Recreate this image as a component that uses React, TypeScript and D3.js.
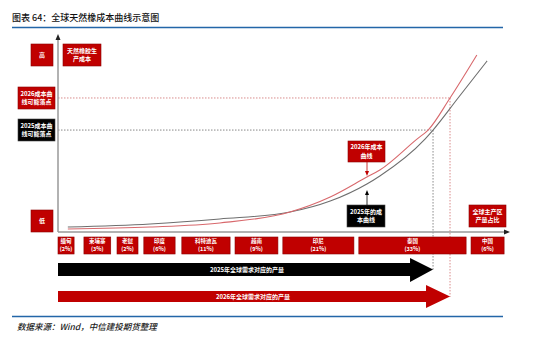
import React from "react";
import * as d3 from "d3";

const title = "图表 64：全球天然橡成本曲线示意图";
const footer = "数据来源：Wind，中信建投期货整理";

// cumulative production position (0-100) vs cost level (0-100)
const curve2026: [number, number][] = [
  [2.2, 1.6], [20.6, 2.6], [36.2, 4.7], [51.9, 10.4], [60.9, 18.2], [69.1, 28.6],
  [72, 32.3], [80.3, 48.4], [82.8, 53.1], [87.7, 69.8], [93.7, 92.2],
];
const curve2025: [number, number][] = [
  [2.2, 2.6], [20.6, 4.2], [36.2, 6.8], [51.9, 10.4], [60.9, 16.1], [69.1, 25],
  [72, 29.2], [82.1, 48.4], [83.9, 53.1], [89.5, 69.8], [96, 89.1],
];

const countries = ["缅甸", "柬埔寨", "老挝", "印度", "科特迪瓦", "越南", "印尼", "泰国", "中国"];
const shares = ["2%", "3%", "2%", "6%", "11%", "9%", "21%", "33%", "6%"];
const segStart = [0, 5.8, 13.2, 19.2, 27.7, 39.6, 50.3, 67.3, 92.4];
const segEnd = [3.6, 11.8, 17.9, 26.2, 38.5, 49.2, 66.2, 91.3, 99.8];

const point2025: [number, number] = [83.9, 53.1];
const point2026: [number, number] = [87.7, 69.8];

const RED = "#C00000";
const FONT = "'Noto Sans CJK SC', 'Noto Sans', sans-serif";

function Box({ x, y, w, h, lines, fill, fs = 6 }: any) {
  return (
    <g>
      <rect x={x} y={y} width={w} height={h} fill={fill} stroke={fill === "#000" ? "#444" : "#8a0000"} strokeWidth={0.6} />
      {lines.map((t: string, i: number) => (
        <text
          key={i}
          x={x + w / 2}
          y={y + h / 2 + (i - (lines.length - 1) / 2) * (fs + 2.5)}
          dy="0.35em"
          textAnchor="middle"
          fill="#fff"
          fontSize={fs}
          fontWeight="bold"
          fontFamily={FONT}
        >
          {t}
        </text>
      ))}
    </g>
  );
}

export default function App() {
  const x = d3.scaleLinear().domain([0, 100]).range([58, 505]);
  const y = d3.scaleLinear().domain([0, 100]).range([232, 40]);
  const line = d3
    .line<[number, number]>()
    .x((d) => x(d[0]))
    .y((d) => y(d[1]))
    .curve(d3.curveMonotoneX);

  const arrow = (x0: number, x1: number, bt: number, bb: number, ht: number, hb: number, hl: number) => {
    const mid = (bt + bb) / 2;
    const p = d3.path();
    p.moveTo(x0, bt);
    p.lineTo(x1 - hl, bt);
    p.lineTo(x1 - hl, ht);
    p.lineTo(x1, mid);
    p.lineTo(x1 - hl, hb);
    p.lineTo(x1 - hl, bb);
    p.lineTo(x0, bb);
    p.closePath();
    return p.toString();
  };

  const bx25 = x(point2025[0]);
  const by25 = y(point2025[1]);
  const bx26 = x(point2026[0]);
  const by26 = y(point2026[1]);

  return (
    <svg width={550} height={337} style={{ position: "absolute", left: 0, top: 0, background: "#fff" }}>
      <text x={12} y={21} fontSize={9} fontWeight={500} fontFamily={FONT} fill="#111">{title}</text>
      <line x1={12} x2={503} y1={27.5} y2={27.5} stroke="#2366a8" strokeWidth={1.5} />

      {/* dotted guides */}
      <line x1={x(0)} x2={bx26} y1={by26} y2={by26} stroke="#d98c8c" strokeWidth={1} strokeDasharray="1.5,1.5" />
      <line x1={bx26} x2={bx26} y1={by26} y2={297} stroke="#d98c8c" strokeWidth={1} strokeDasharray="1.5,1.5" />
      <line x1={x(0)} x2={bx25} y1={by25} y2={by25} stroke="#888" strokeWidth={1} strokeDasharray="1.5,1.5" />
      <line x1={bx25} x2={bx25} y1={by25} y2={270} stroke="#888" strokeWidth={1} strokeDasharray="1.5,1.5" />

      {/* axes */}
      <line x1={x(0)} x2={x(0)} y1={232} y2={38} stroke="#999" strokeWidth={1.5} />
      <path d={`M${x(0) - 2.5},40 L${x(0)},34 L${x(0) + 2.5},40 Z`} fill="#222" />
      <line x1={x(0)} x2={506} y1={232} y2={232} stroke="#999" strokeWidth={1.5} />
      <path d={`M504,229.5 L510,232 L504,234.5 Z`} fill="#222" />

      {/* curves */}
      <path d={line(curve2025) || ""} fill="none" stroke="#6e6e6e" strokeWidth={1.1} />
      <path d={line(curve2026) || ""} fill="none" stroke="#d8686c" strokeWidth={1.1} />

      {/* left labels */}
      <Box x={31} y={44} w={22} h={22} lines={["高"]} fill={RED} />
      <Box x={63} y={44} w={38} h={22} lines={["天然橡胶生", "产成本"]} fill={RED} />
      <Box x={18} y={87} w={37} h={22} lines={["2026成本曲", "线可能落点"]} fill={RED} />
      <Box x={18} y={119} w={37} h={22} lines={["2025成本曲", "线可能落点"]} fill="#000" />
      <Box x={31} y={210} w={22} h={22} lines={["低"]} fill={RED} />

      {/* curve annotations */}
      <Box x={348} y={141} w={37} h={21} lines={["2026年成本", "曲线"]} fill={RED} />
      <line x1={367} x2={367} y1={162} y2={172} stroke={RED} strokeWidth={0.8} />
      <path d="M365,171 L367,176 L369,171 Z" fill={RED} />
      <Box x={347} y={205} w={38} h={22} lines={["2025年的成", "本曲线"]} fill="#000" />
      <line x1={367} x2={367} y1={205} y2={194} stroke="#000" strokeWidth={0.8} />
      <path d="M365,195 L367,190 L369,195 Z" fill="#000" />
      <Box x={469} y={205} w={37} h={22} lines={["全球主产区", "产量占比"]} fill={RED} />

      {/* country boxes */}
      {countries.map((c, i) => (
        <Box
          key={c}
          x={x(segStart[i])}
          y={237}
          w={x(segEnd[i]) - x(segStart[i])}
          h={17}
          lines={[c, `(${shares[i]})`]}
          fill={RED}
          fs={5.5}
        />
      ))}

      {/* demand arrows */}
      <path d={arrow(x(0), bx25, 263, 276, 258, 282, 23)} fill="#000" />
      <text x={247} y={269.5} dy="0.35em" textAnchor="middle" fill="#fff" fontSize={6} fontWeight="bold" fontFamily={FONT}>
        2025年全球需求对应的产量
      </text>
      <path d={arrow(x(0), bx26, 291, 302, 285, 308, 24)} fill={RED} />
      <text x={253} y={296.5} dy="0.35em" textAnchor="middle" fill="#fff" fontSize={6} fontWeight="bold" fontFamily={FONT}>
        2026年全球需求对应的产量
      </text>

      <line x1={12} x2={503} y1={316.5} y2={316.5} stroke="#2366a8" strokeWidth={1.5} />
      <text x={17} y={330} fontSize={8.5} fontWeight={500} fontStyle="italic" fontFamily={FONT} fill="#222">{footer}</text>
    </svg>
  );
}
